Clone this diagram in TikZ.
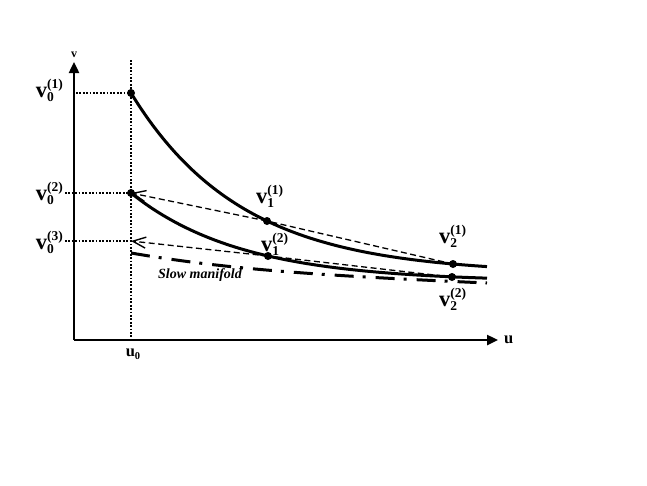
\documentclass[tikz,border=0pt]{standalone}
\usepackage{fontspec}
\setmainfont{Liberation Serif}
\usetikzlibrary{arrows.meta}
\newcommand\vlab[2]{{\fontsize{22.5}{22.5}\selectfont v}\rlap{\raisebox{-4.5pt}{\fontsize{13.5}{13.5}\selectfont #1}}\raisebox{9pt}{\fontsize{13.5}{13.5}\selectfont (#2)}}
\tikzset{
  axisline/.style={line width=2.4pt, -{Triangle[length=11pt,width=10pt]}},
  curveline/.style={line width=3pt},
  dotline/.style={line width=2.2pt, dash pattern=on 1.8pt off 1.6pt},
  dashline/.style={line width=1.3pt, dash pattern=on 6pt off 3.5pt},
  manifold/.style={line width=3pt, dash pattern=on 19pt off 9pt on 3pt off 10pt},
  pt/.style={circle, fill=black, inner sep=0pt, minimum size=8pt},
  lab/.style={inner sep=0pt, font=\bfseries},
  openarrow/.style={-{Straight Barb[length=13pt,width=11pt,line width=1.4pt]}}
}
\begin{document}
\begin{tikzpicture}[x=1pt,y=-1pt]
\useasboundingbox (0,0) rectangle (647,485);
% axes
\coordinate (O) at (74,340);
\coordinate (ytip) at (74,62);
\coordinate (xtip) at (498,340);
\draw[axisline] (O) -- (ytip);
\draw[axisline] (O) -- (xtip);
\node[lab, font=\bfseries\fontsize{12}{12}\selectfont] (vax) at (74,55) {v};
\node[lab, font=\bfseries\fontsize{16.5}{16.5}\selectfont, anchor=base west] (uax) at (504,343) {u};
% u0 line
\coordinate (u0top) at (131,60);
\coordinate (u0bot) at (131,340);
\draw[dotline] (u0top) -- (u0bot);
\node[lab, anchor=base, font=\bfseries] (u0) at (133,356) {{\fontsize{16.5}{16.5}\selectfont u}\raisebox{-3.5pt}{\fontsize{10.5}{10.5}\selectfont 0}};
% points
\node[pt] (d01) at (131,93) {};
\node[pt] (d02) at (131,193) {};
\coordinate (c03) at (131,241);
\node[pt] (d11) at (267,221) {};
\node[pt] (d21) at (453,264) {};
\node[pt] (d12) at (268,256) {};
\node[pt] (d22) at (452,277) {};
% curves
\draw[curveline] plot[domain=131:487, samples=90, smooth] (\x, {273.8-180.8*exp(-0.00905*(\x-131))});
\draw[curveline] plot[domain=131:487, samples=90, smooth] (\x, {281.7-88.7*exp(-0.00904*(\x-131))});
% slow manifold
\coordinate (m1) at (131,253);
\coordinate (m2) at (487,283);
\draw[manifold] (m1) .. controls (230,270) and (330,276) .. (m2);
\node[lab, font=\bfseries\itshape\fontsize{14}{14}\selectfont] (sm) at (200,275) {Slow manifold};
% dotted level lines
\coordinate (h1) at (76,93);
\coordinate (h2) at (65,193);
\coordinate (h3) at (65,241);
\draw[dotline] (h1) -- (d01.center);
\draw[dotline] (h2) -- (d02.center);
\draw[dotline] (h3) -- (c03);
% dashed secants
\draw[dashline] (d21.center) -- (d11.center);
\draw[dashline, openarrow] (d11.center) -- (d02.center);
\draw[dashline] (d22.center) -- (d12.center);
\draw[dashline, openarrow] (d12.center) -- (c03);
% labels
\node[lab, anchor=base east] (L01) at (63,97) {\vlab{0}{1}};
\node[lab, anchor=base east] (L02) at (63,200) {\vlab{0}{2}};
\node[lab, anchor=base east] (L03) at (63,249) {\vlab{0}{3}};
\node[lab, anchor=base west] (L11) at (256,203) {\vlab{1}{1}};
\node[lab, anchor=base west] (L12) at (261,251) {\vlab{1}{2}};
\node[lab, anchor=base west] (L21) at (439,243) {\vlab{2}{1}};
\node[lab, anchor=base west] (L22) at (439,306) {\vlab{2}{2}};
\end{tikzpicture}
\end{document}
